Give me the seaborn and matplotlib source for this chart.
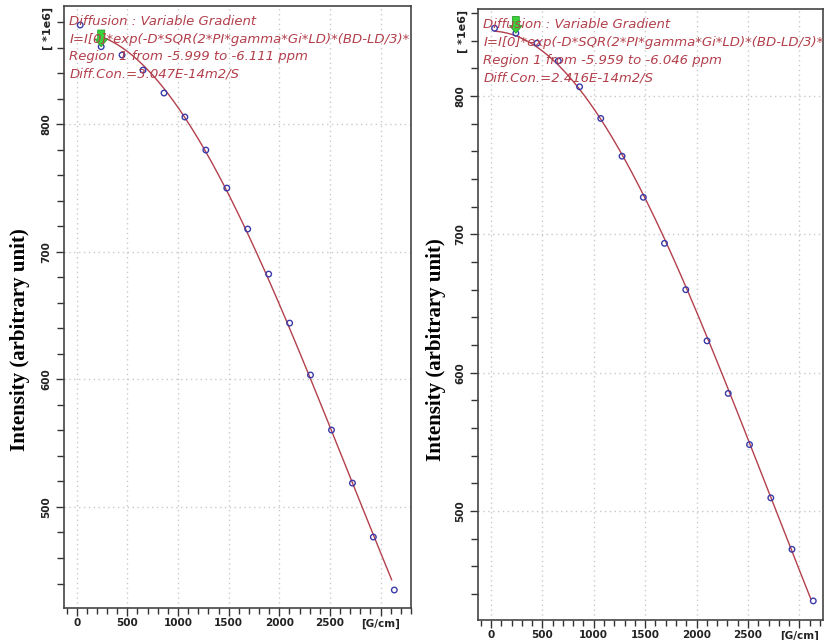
import numpy as np
import pandas as pd
import matplotlib
matplotlib.use("Agg")
import matplotlib.pyplot as plt
import seaborn as sns
from matplotlib.ticker import MultipleLocator, FixedLocator, FixedFormatter

# ---------------- data ----------------
gradient = [35, 242, 448, 655, 862, 1068, 1275, 1482, 1688, 1895,
            2102, 2308, 2515, 2722, 2928, 3135]
intensity_left = [877.7, 860.7, 854.2, 842.4, 824.4, 805.6, 779.7, 749.9,
                  717.8, 682.5, 644.1, 603.4, 560.3, 518.7, 476.4, 434.9]
intensity_right = [849.0, 845.4, 838.2, 825.4, 806.7, 783.8, 756.5, 726.8,
                   693.5, 660.0, 623.0, 585.0, 548.0, 509.5, 472.3, 435.0]

text_left = ["Diffusion : Variable Gradient",
             "I=I[0]*exp(-D*SQR(2*PI*gamma*Gi*LD)*(BD-LD/3)*",
             "Region 1 from -5.999 to -6.111 ppm",
             "Diff.Con.=3.047E-14m2/S"]
text_right = ["Diffusion : Variable Gradient",
              "I=I[0]*exp(-D*SQR(2*PI*gamma*Gi*LD)*(BD-LD/3)*",
              "Region 1 from -5.959 to -6.046 ppm",
              "Diff.Con.=2.416E-14m2/S"]

x_major = [0, 500, 1000, 1500, 2000, 2500, 3000]
x_labels = ["0", "500", "1000", "1500", "2000", "2500", "[G/cm]"]
y_major = [500, 600, 700, 800]
y_labels = ["500", "600", "700", "800"]
ylabel = "Intensity (arbitrary unit)"
unit_label = "[ *1e6]"

# ---------------- style ----------------
sns.set_theme(style="white")
plt.rcParams["font.family"] = ["DejaVu Sans"]

RED = "#b3404c"
BLUE = "#3a3aa8"
GRID = "#c9c9c9"

fig = plt.figure(figsize=(8.28, 6.4), dpi=100)

panels = [
    dict(pos=[0.0773, 0.050, 0.4191, 0.9406], y=intensity_left, text=text_left,
         xlim=(-125, 3300), ylim=(420.8, 892.6), fit_from=1,
         lab_x=0.024, lab_y=0.469, unit_x=0.058),
    dict(pos=[0.5773, 0.03125, 0.4167, 0.9542], y=intensity_right, text=text_right,
         xlim=(-126, 3230), ylim=(421.2, 862.7), fit_from=0,
         lab_x=0.526, lab_y=0.453, unit_x=0.559),
]

for p in panels:
    ax = fig.add_axes(p["pos"])
    df = pd.DataFrame({"g": gradient, "I": p["y"]})

    # Gaussian decay fit: ln I = a - k g^2
    coef = np.polyfit(np.square(df["g"].astype(float)), np.log(df["I"]), 1)
    g_fit = np.linspace(gradient[p["fit_from"]] - 35 * p["fit_from"], gradient[-1] - 25, 300)
    fit_df = pd.DataFrame({"g": g_fit, "I": np.exp(np.polyval(coef, g_fit ** 2))})

    sns.lineplot(data=fit_df, x="g", y="I", ax=ax, color=RED, linewidth=1.0,
                 zorder=3)
    sns.scatterplot(data=df, x="g", y="I", ax=ax, marker="o", s=16,
                    facecolor="none", edgecolor=BLUE, linewidth=1.0, zorder=4)

    # green cursor arrow at second point
    ax.annotate("", xy=(gradient[1], p["y"][1]), xytext=(0, 12),
                textcoords="offset points",
                arrowprops=dict(facecolor="#3ad23a", edgecolor="#2a9a2a",
                                width=5, headwidth=9, headlength=5.5,
                                shrink=0, linewidth=0.6), zorder=5)

    ax.set_xlim(*p["xlim"])
    ax.set_ylim(*p["ylim"])

    ax.xaxis.set_major_locator(FixedLocator(x_major))
    ax.xaxis.set_major_formatter(FixedFormatter(x_labels))
    ax.xaxis.set_minor_locator(MultipleLocator(100))
    ax.yaxis.set_major_locator(FixedLocator(y_major))
    ax.yaxis.set_major_formatter(FixedFormatter(y_labels))
    ax.yaxis.set_minor_locator(MultipleLocator(20))

    ax.tick_params(axis="x", which="major", direction="out", length=6, width=1,
                   color="#333333", labelsize=7.5, pad=1.5, bottom=True)
    ax.tick_params(axis="x", which="minor", direction="out", length=4, width=1,
                   color="#333333", bottom=True)
    ax.tick_params(axis="y", which="major", direction="out", length=6, width=1,
                   color="#333333", labelsize=7.5, pad=3, left=True,
                   labelrotation=90)
    ax.tick_params(axis="y", which="minor", direction="out", length=5, width=1,
                   color="#333333", left=True)
    for lab in ax.get_xticklabels() + ax.get_yticklabels():
        lab.set_fontweight("bold")
        lab.set_color("#222222")
    for lab in ax.get_yticklabels():
        lab.set_va("center")

    ax.grid(True, which="major", color=GRID, linestyle=(0, (1, 2.5)),
            linewidth=1.0)
    for s in ax.spines.values():
        s.set_visible(True)
        s.set_color("#444444")
        s.set_linewidth(1.2)

    ax.set_xlabel("")
    ax.set_ylabel("")

    # annotation text
    for i, line in enumerate(p["text"]):
        ax.text(0.015, 0.985 - i * 0.029, line, transform=ax.transAxes,
                color=RED, fontsize=9.5, fontstyle="italic", va="top",
                ha="left", zorder=6)

    # y unit and y label
    top = p["pos"][1] + p["pos"][3]
    fig.text(p["unit_x"], top - 0.035, unit_label, rotation=90, fontsize=8,
             fontweight="bold", ha="center", va="center", color="#222222")
    fig.text(p["lab_x"], p["lab_y"], ylabel, rotation=90,
             fontsize=15, fontweight="bold", family="Liberation Serif",
             ha="center", va="center", color="black")

fig.savefig("out.png", dpi=100)
